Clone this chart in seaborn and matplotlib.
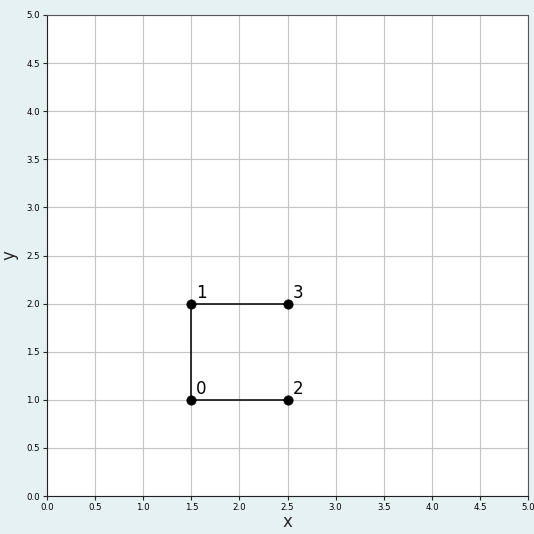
import matplotlib
matplotlib.use("Agg")
import matplotlib.pyplot as plt
import seaborn as sns
import pandas as pd

node_ids = [0, 1, 2, 3]
node_x = [1.5, 1.5, 2.5, 2.5]
node_y = [1.0, 2.0, 1.0, 2.0]
edges = [(0, 1), (1, 3), (0, 2)]
ticks = [0.0, 0.5, 1.0, 1.5, 2.0, 2.5, 3.0, 3.5, 4.0, 4.5, 5.0]

df = pd.DataFrame({"id": node_ids, "x": node_x, "y": node_y})

sns.set_style("ticks")
plt.rcParams['font.family'] = ['DejaVu Sans']
fig = plt.figure(figsize=(5.34, 5.34), dpi=100, facecolor="#e6f1f4")
ax = fig.add_axes([0.088, 0.071, 0.901, 0.901])
ax.set_facecolor("white")

for a, b in edges:
    seg = pd.DataFrame({"x": [node_x[a], node_x[b]], "y": [node_y[a], node_y[b]]})
    sns.lineplot(data=seg, x="x", y="y", ax=ax, color="#111111", linewidth=1.2,
                 sort=False, estimator=None, zorder=3)
sns.scatterplot(data=df, x="x", y="y", ax=ax, color="black", s=45, zorder=4,
                edgecolor="black", linewidth=0.5)
for i, xx, yy in zip(node_ids, node_x, node_y):
    ax.text(xx + 0.05, yy + 0.06, str(i), fontsize=12, color="black", zorder=5)

ax.set_xlim(0, 5)
ax.set_ylim(0, 5)
ax.set_xticks(ticks)
ax.set_yticks(ticks)
ax.set_xticklabels([f"{t:.1f}" for t in ticks], fontsize=6.2, color="black")
ax.set_yticklabels([f"{t:.1f}" for t in ticks], fontsize=6.2, color="black")
ax.tick_params(length=3, width=0.8, pad=2)
ax.grid(True, color="#c4c4c4", linewidth=0.8)
ax.set_axisbelow(True)
ax.set_xlabel("x", fontsize=12, labelpad=1)
ax.set_ylabel("y", fontsize=12, labelpad=6)
for s in ["left", "bottom"]:
    ax.spines[s].set_color("#222222")
for s in ["top", "right"]:
    ax.spines[s].set_visible(True)
    ax.spines[s].set_color("#555555")

fig.savefig("out.png", dpi=100, facecolor=fig.get_facecolor())
